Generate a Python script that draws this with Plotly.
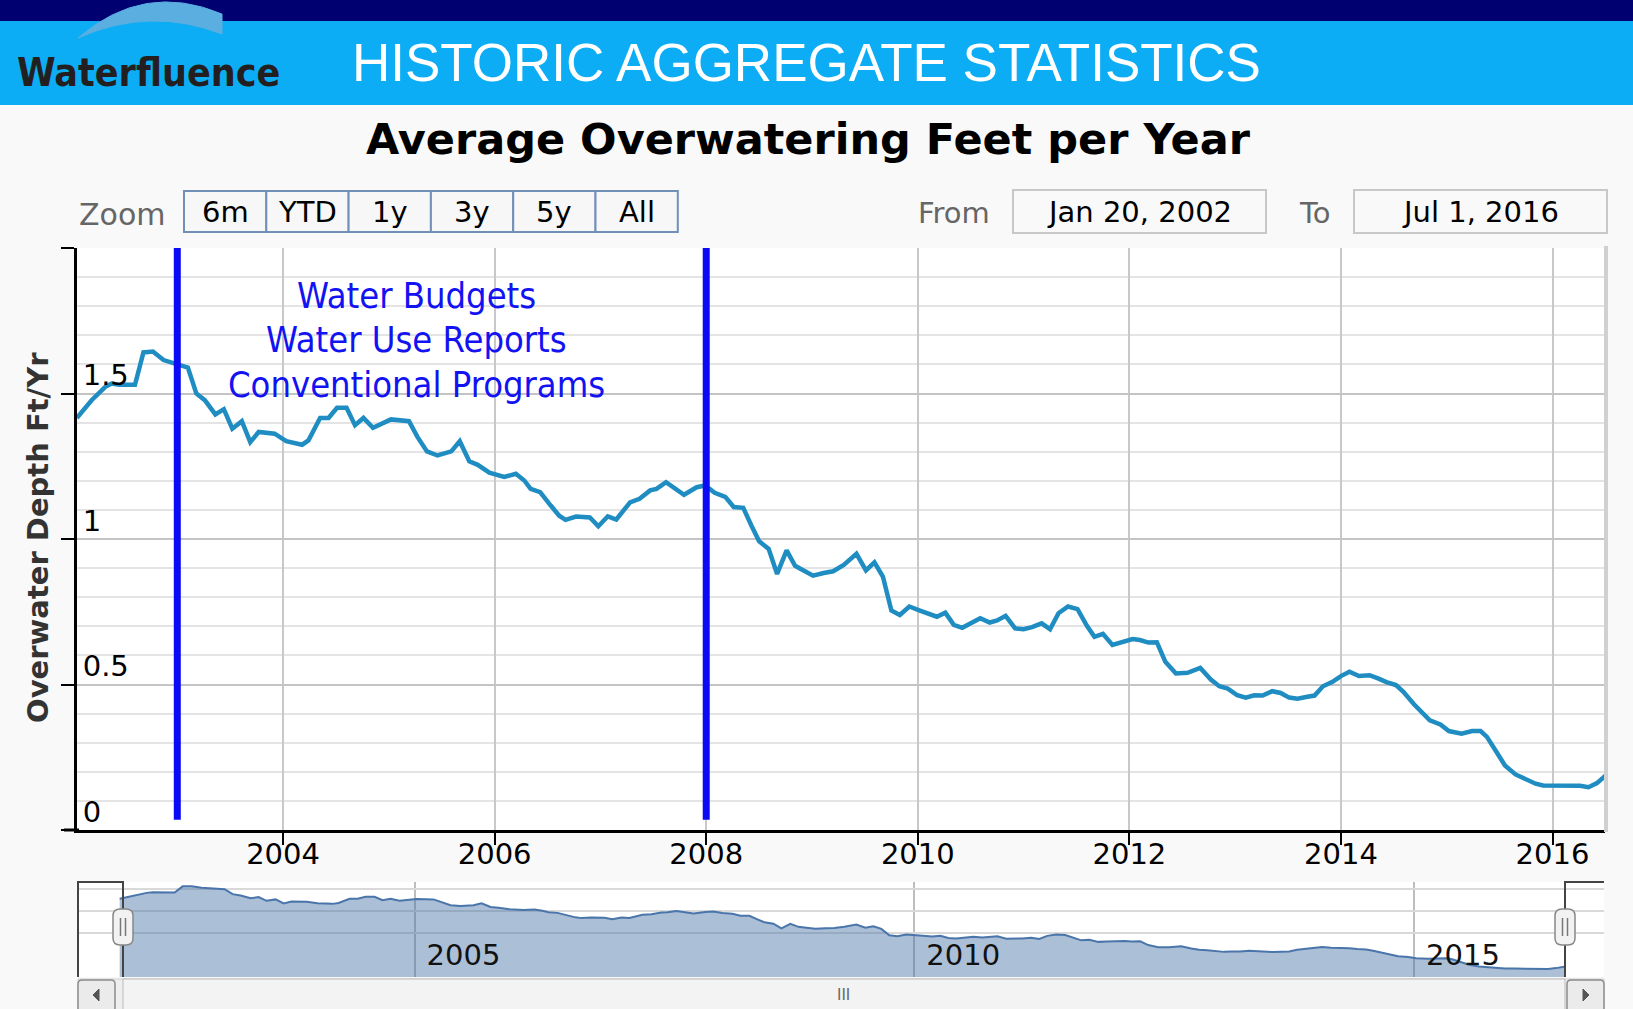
import plotly.graph_objects as go

W, H = 1633, 1009

# Monthly readings, decimal year -> overwater depth (ft/yr)
years = [
    2002.05, 2002.19, 2002.32, 2002.38, 2002.45, 2002.60, 2002.68, 2002.77, 2002.87, 2002.97,
    2003.10, 2003.18, 2003.26, 2003.36, 2003.44, 2003.52, 2003.61, 2003.69, 2003.77, 2003.92,
    2004.03, 2004.18, 2004.24, 2004.35, 2004.43, 2004.51, 2004.60, 2004.68, 2004.76, 2004.85,
    2005.02, 2005.19, 2005.27, 2005.36, 2005.46, 2005.59, 2005.67, 2005.76, 2005.84, 2005.95,
    2006.09, 2006.20, 2006.28, 2006.34, 2006.43, 2006.53, 2006.61, 2006.67, 2006.77, 2006.90,
    2006.98, 2007.07, 2007.15, 2007.28, 2007.37, 2007.47, 2007.53, 2007.62, 2007.70, 2007.79,
    2007.91, 2007.99, 2008.08, 2008.18, 2008.26, 2008.35, 2008.43, 2008.50, 2008.59, 2008.67,
    2008.76, 2008.84, 2008.92, 2009.01, 2009.11, 2009.20, 2009.30, 2009.42, 2009.51, 2009.59,
    2009.67, 2009.75, 2009.83, 2009.92, 2010.02, 2010.10, 2010.18, 2010.26, 2010.34, 2010.42,
    2010.51, 2010.59, 2010.68, 2010.75, 2010.83, 2010.92, 2011.00, 2011.08, 2011.17, 2011.25,
    2011.33, 2011.42, 2011.51, 2011.60, 2011.67, 2011.75, 2011.84, 2011.93, 2012.03, 2012.10,
    2012.18, 2012.26, 2012.34, 2012.44, 2012.55, 2012.67, 2012.77, 2012.85, 2012.93, 2013.02,
    2013.10, 2013.18, 2013.26, 2013.35, 2013.43, 2013.51, 2013.59, 2013.67, 2013.75, 2013.83,
    2013.92, 2014.00, 2014.08, 2014.17, 2014.27, 2014.35, 2014.43, 2014.52, 2014.59, 2014.69,
    2014.78, 2014.84, 2014.94, 2015.02, 2015.14, 2015.24, 2015.32, 2015.38, 2015.46, 2015.55,
    2015.65, 2015.74, 2015.84, 2015.91, 2016.01, 2016.14, 2016.26, 2016.34, 2016.42, 2016.50,
]
depth = [
    1.416, 1.477, 1.523, 1.534, 1.530, 1.530, 1.641, 1.644, 1.615, 1.603,
    1.589, 1.500, 1.477, 1.428, 1.446, 1.379, 1.405, 1.333, 1.368, 1.362,
    1.336, 1.324, 1.339, 1.416, 1.416, 1.451, 1.451, 1.391, 1.416, 1.382,
    1.411, 1.405, 1.351, 1.301, 1.287, 1.301, 1.336, 1.267, 1.255, 1.228,
    1.213, 1.224, 1.201, 1.172, 1.161, 1.115, 1.080, 1.066, 1.077, 1.074,
    1.044, 1.078, 1.067, 1.126, 1.138, 1.167, 1.172, 1.195, 1.175, 1.152,
    1.178, 1.184, 1.159, 1.145, 1.110, 1.107, 1.044, 0.992, 0.966, 0.880,
    0.961, 0.908, 0.892, 0.874, 0.883, 0.889, 0.911, 0.949, 0.892, 0.920,
    0.871, 0.754, 0.739, 0.768, 0.754, 0.743, 0.733, 0.747, 0.705, 0.695,
    0.713, 0.728, 0.713, 0.720, 0.736, 0.693, 0.690, 0.697, 0.710, 0.690,
    0.745, 0.768, 0.759, 0.701, 0.664, 0.674, 0.636, 0.644, 0.656, 0.653,
    0.644, 0.645, 0.578, 0.538, 0.540, 0.557, 0.517, 0.494, 0.486, 0.463,
    0.455, 0.463, 0.462, 0.477, 0.471, 0.455, 0.451, 0.457, 0.462, 0.494,
    0.509, 0.529, 0.544, 0.529, 0.532, 0.521, 0.508, 0.498, 0.475, 0.432,
    0.398, 0.377, 0.363, 0.340, 0.331, 0.340, 0.340, 0.320, 0.274, 0.222,
    0.191, 0.176, 0.159, 0.153, 0.153, 0.152, 0.152, 0.147, 0.161, 0.187,
]

event_years = [2003.0, 2008.0]
program_labels = ["Water Budgets", "Water Use Reports", "Conventional Programs"]
zoom_labels = ["6m", "YTD", "1y", "3y", "5y", "All"]
range_from = "Jan 20, 2002"
range_to = "Jul 1, 2016"
x_ticks = [2004, 2006, 2008, 2010, 2012, 2014, 2016]
nav_ticks = [2005, 2010, 2015]
y_ticks = [0, 0.5, 1, 1.5, 2]
y_ticktext = ["0", "0.5", "1", "1.5", ""]

UI_FONT = "DejaVu Sans"
COND_FONT = "DejaVu Sans Condensed, Liberation Sans Narrow, DejaVu Sans"


def px(x):
    return x / W


def py(y):
    return 1 - y / H


def rect(x0, y0, x1, y1, fill, line="rgba(0,0,0,0)", lw=1):
    return dict(type="rect", xref="paper", yref="paper",
                x0=px(x0), x1=px(x1), y0=py(y1), y1=py(y0),
                fillcolor=fill, line=dict(color=line, width=lw), layer="above")


def line(x0, y0, x1, y1, color, lw):
    return dict(type="line", xref="paper", yref="paper",
                x0=px(x0), x1=px(x1), y0=py(y0), y1=py(y1),
                line=dict(color=color, width=lw))


def rounded(x0, y0, x1, y1, r, fill, color, lw=1.5):
    pts = [
        ("M", x0 + r, y0), ("L", x1 - r, y0), ("Q", x1, y0, x1, y0 + r),
        ("L", x1, y1 - r), ("Q", x1, y1, x1 - r, y1), ("L", x0 + r, y1),
        ("Q", x0, y1, x0, y1 - r), ("L", x0, y0 + r), ("Q", x0, y0, x0 + r, y0),
    ]
    d = ""
    for p in pts:
        if p[0] == "Q":
            d += f"Q{px(p[1])},{py(p[2])} {px(p[3])},{py(p[4])} "
        else:
            d += f"{p[0]}{px(p[1])},{py(p[2])} "
    return dict(type="path", xref="paper", yref="paper", path=d + "Z",
                fillcolor=fill, line=dict(color=color, width=lw))


def text(x, y, s, size, color="#000", family=UI_FONT, anchor="center", weight="normal", angle=0):
    return dict(x=px(x), y=py(y), xref="paper", yref="paper", text=s, showarrow=False,
                xanchor=anchor, yanchor="middle", textangle=angle,
                font=dict(family=family, size=size, color=color, weight=weight))


fig = go.Figure()

# main series
fig.add_trace(go.Scatter(x=years, y=depth, mode="lines",
                         line=dict(color="#1F8DC1", width=4.5), hoverinfo="skip",
                         xaxis="x", yaxis="y"))
# navigator series
fig.add_trace(go.Scatter(x=years, y=depth, mode="lines", fill="tozeroy",
                         fillcolor="rgba(69,114,167,0.45)",
                         line=dict(color="#4A75AA", width=2), hoverinfo="skip",
                         xaxis="x2", yaxis="y2"))

shapes = []
annotations = []

# slide header
shapes.append(rect(0, 0, W, 22, "#000070"))
shapes.append(rect(0, 21, W, 105, "#0CADF5"))
arc = (f"M{px(78)},{py(38)} Q{px(144)},{py(-19)} {px(222)},{py(14)} "
       f"L{px(222)},{py(34)} Q{px(150)},{py(6)} {px(78)},{py(38)} Z")
shapes.append(dict(type="path", xref="paper", yref="paper", path=arc,
                   fillcolor="#5BAEE0", line=dict(color="#5BAEE0", width=1)))
annotations.append(text(15, 73, "Waterfluence", 39, "#231F20", COND_FONT, "left", "bold"))
annotations.append(text(350, 63, "HISTORIC AGGREGATE STATISTICS", 53, "white",
                        "Liberation Sans, Arial", "left"))

# chart title
annotations.append(text(808, 139, "Average Overwatering Feet per Year", 43, "#000", UI_FONT,
                        weight="bold"))

# range selector
annotations.append(text(122, 214, "Zoom", 30, "#666666"))
bx0, bw = 184, 82.3
for i, lab in enumerate(zoom_labels):
    shapes.append(rect(bx0 + i * bw, 191, bx0 + (i + 1) * bw, 232, "#F7F7F7", "#7190B8", 2))
    annotations.append(text(bx0 + (i + 0.5) * bw, 212, lab, 29))

annotations.append(text(954, 213, "From", 29, "#666666"))
shapes.append(rect(1013, 190, 1266, 233, "#F9F9F9", "#C8C8C8", 2))
annotations.append(text(1139, 212, range_from, 29))
annotations.append(text(1315, 213, "To", 29, "#666666"))
shapes.append(rect(1354, 190, 1607, 233, "#F9F9F9", "#C8C8C8", 2))
annotations.append(text(1480, 212, range_to, 29))

# plot frame extras
shapes.append(line(1606, 246, 1606, 832, "#D0D0D0", 4))
shapes.append(line(64, 830, 79, 830, "#000", 3))

# program change markers
for ev in event_years:
    shapes.append(dict(type="line", xref="x", yref="y", x0=ev, x1=ev, y0=0.035, y1=2,
                       line=dict(color="#0A0AF5", width=7)))
for i, lab in enumerate(program_labels):
    annotations.append(text(417, 296 + i * 44, lab, 36, "#1212F2", COND_FONT))

annotations.append(text(38, 538, "Overwater Depth Ft/Yr", 29, "#333333", UI_FONT,
                        weight="bold", angle=-90))

# navigator outline and handles
nav_top, nav_bot = 882, 977
outline = (f"M{px(78)},{py(nav_bot)} L{px(78)},{py(nav_top)} L{px(123)},{py(nav_top)} "
           f"L{px(123)},{py(nav_bot)} M{px(1565)},{py(nav_bot)} L{px(1565)},{py(nav_top)} "
           f"L{px(1604)},{py(nav_top)}")
shapes.append(dict(type="path", xref="paper", yref="paper", path=outline,
                   line=dict(color="#444444", width=2)))
for hx in (123, 1565):
    shapes.append(rounded(hx - 10, 909, hx + 10, 945, 7, "#F2F2F2", "#888888"))
    shapes.append(line(hx - 2.5, 918, hx - 2.5, 936, "#777", 1.5))
    shapes.append(line(hx + 2.5, 918, hx + 2.5, 936, "#777", 1.5))

# scrollbar
shapes.append(rect(78, 979, 1604, 1010, "#EEEEEE", "#CFCFCF", 1))
shapes.append(rect(123, 979, 1565, 1010, "#F3F3F3", "#BBBBBB", 1))
shapes.append(rounded(78, 980, 115, 1012, 4, "#EBEBEB", "#8C8C8C"))
shapes.append(rounded(1567, 980, 1604, 1012, 4, "#EBEBEB", "#8C8C8C"))
tri_l = f"M{px(93)},{py(995)} L{px(99)},{py(989)} L{px(99)},{py(1001)} Z"
tri_r = f"M{px(1589)},{py(995)} L{px(1583)},{py(989)} L{px(1583)},{py(1001)} Z"
for tri in (tri_l, tri_r):
    shapes.append(dict(type="path", xref="paper", yref="paper", path=tri,
                       fillcolor="#555555", line=dict(color="#555555", width=1)))
annotations.append(text(843, 995, "III", 15, "#666666"))

fig.update_layout(
    width=W, height=H,
    margin=dict(l=0, r=0, t=0, b=0),
    paper_bgcolor="#F9F9F9",
    plot_bgcolor="#FFFFFF",
    showlegend=False,
    shapes=shapes,
    annotations=annotations,
    xaxis=dict(
        domain=[px(77), px(1605)], range=[2002.052, 2016.496], anchor="y",
        tickvals=x_ticks, ticktext=[str(t) for t in x_ticks],
        ticks="outside", ticklen=12, tickwidth=2, tickcolor="#000",
        ticklabelstandoff=-16,
        showline=True, linecolor="#000", linewidth=3,
        showgrid=True, gridcolor="#C8C8C8", gridwidth=2, zeroline=False,
        tickfont=dict(family=UI_FONT, size=29, color="#000"),
    ),
    yaxis=dict(
        domain=[py(830), py(248)], range=[0, 2], anchor="x",
        tickvals=y_ticks, ticktext=y_ticktext,
        ticks="outside", ticklen=13, tickwidth=2, tickcolor="#000",
        ticklabelposition="inside top", ticklabelstandoff=7, ticklabelshift=3,
        showline=True, linecolor="#000", linewidth=3,
        showgrid=True, gridcolor="#C4C4C4", gridwidth=2, zeroline=False,
        minor=dict(dtick=0.1, showgrid=True, gridcolor="#E4E4E4", gridwidth=2),
        tickfont=dict(family=UI_FONT, size=29, color="#000"),
    ),
    xaxis2=dict(
        domain=[px(78), px(1604)], range=[2001.633, 2016.9], anchor="y2",
        tickvals=nav_ticks, ticktext=[str(t) for t in nav_ticks],
        ticklabelposition="inside right", ticklabelshift=12, ticks="",
        showgrid=True, gridcolor="#BDBDBD", gridwidth=2, zeroline=False, showline=False,
        tickfont=dict(family=UI_FONT, size=29, color="#111"),
    ),
    yaxis2=dict(
        domain=[py(nav_bot), py(nav_top)], range=[0, 1.72], anchor="x2",
        dtick=0.4, showticklabels=False, ticks="",
        showgrid=True, gridcolor="#D9D9D9", gridwidth=2, zeroline=False,
    ),
)

fig.write_html("out.html", config={"displayModeBar": False},
               post_script="document.body.style.margin='0';")
